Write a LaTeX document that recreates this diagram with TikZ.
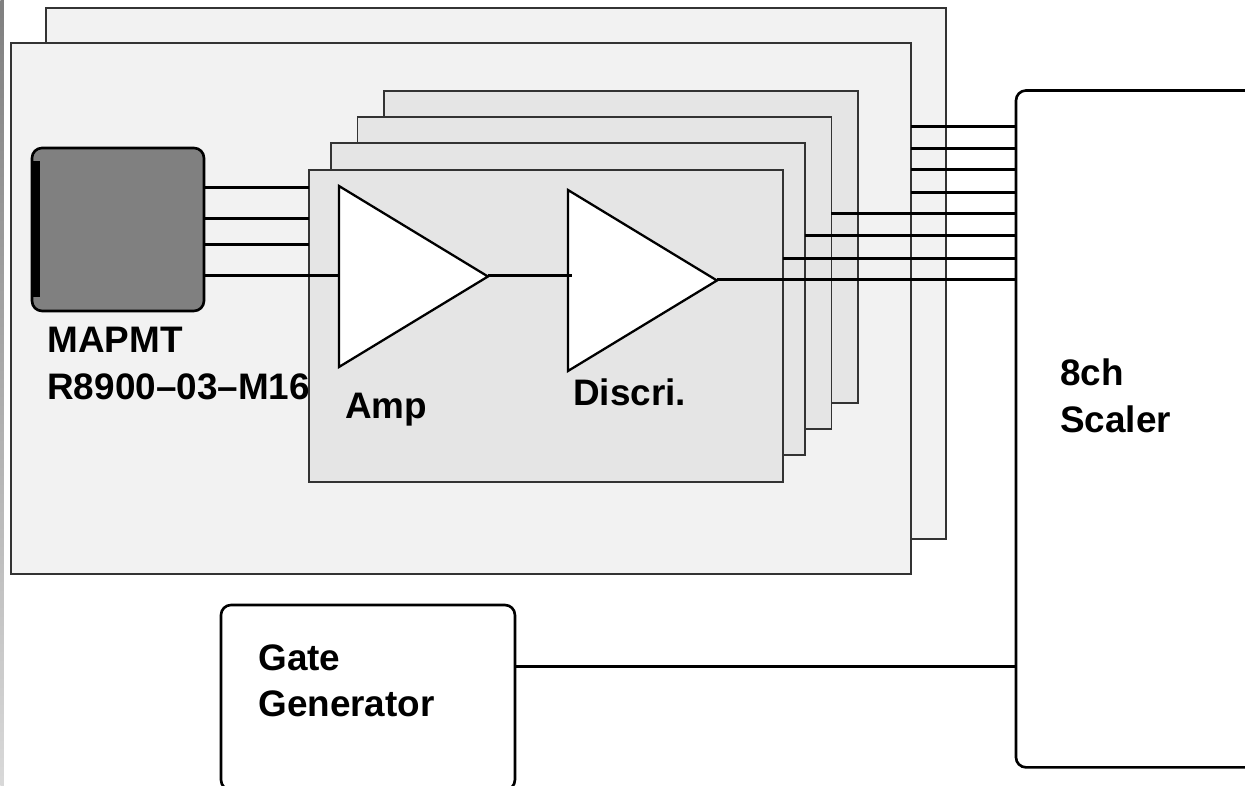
\documentclass[tikz,border=0pt]{standalone}
\usepackage{fontspec}
\setmainfont{Liberation Sans}
\usetikzlibrary{shapes.geometric}
\begin{document}
\begin{tikzpicture}[
    x=0.02cm, y=-0.02cm,
    outerboard/.style={rectangle, draw=black!80, line width=0.8pt, fill=black!5, anchor=north west, outer sep=0pt, minimum width=18cm, minimum height=10.62cm},
    ampboard/.style={rectangle, draw=black!80, line width=0.8pt, fill=black!10, anchor=north west, outer sep=0pt, minimum width=9.48cm, minimum height=6.24cm},
    device/.style={rectangle, draw, rounded corners=0.2cm, line width=1.5pt, anchor=north west, outer sep=0pt},
    stage/.style={isosceles triangle, isosceles triangle apex angle=100, isosceles triangle stretches, draw, line width=1.3pt, fill=white, shape border rotate=0, anchor=lower side, inner sep=0pt, outer sep=0pt, minimum width=3.62cm, minimum height=2.98cm},
    wire/.style={line width=1.5pt},
    label/.style={font=\fontsize{21}{26.6}\selectfont\bfseries, align=left, anchor=north west, inner sep=0pt}
  ]
    \path[use as bounding box, clip] (0,0) rectangle (1245,786);
    \node[rectangle, top color=black!50, bottom color=black!15, anchor=north west, inner sep=0pt, minimum width=0.07cm, minimum height=15.72cm] (edge) at (0,0) {};
    \node[outerboard] (back) at (46,8) {};
    \node[outerboard] (front) at (11,43) {};
    \node[ampboard] (board4) at (384,91) {};
    \node[ampboard] (board3) at (357.5,117) {};
    \node[ampboard] (board2) at (331,143) {};
    \node[ampboard] (board1) at (309,170) {};
    \node[device, fill=black!50, minimum width=3.44cm, minimum height=3.26cm] (pmt) at (32,148) {};
    \node[rectangle, fill=black, anchor=north west, inner sep=0pt, minimum width=0.14cm, minimum height=2.72cm] (window) at (33,161) {};
    \node[stage] (amp) at (339,276.5) {};
    \node[stage] (disc) at (568,280.5) {};
    \node[device, minimum width=5cm, minimum height=13.54cm] (scaler) at (1016,90.5) {};
    \node[device, minimum width=5.88cm, minimum height=3.7cm] (gate) at (221,605) {};
    \draw[wire] (pmt.east |- 0,187.5) -- (board1.west |- 0,187.5);
    \draw[wire] (pmt.east |- 0,218.5) -- (board1.west |- 0,218.5);
    \draw[wire] (pmt.east |- 0,244.5) -- (board1.west |- 0,244.5);
    \draw[wire] (pmt.east |- 0,275.5) -- (amp.lower side |- 0,275.5);
    \draw[wire] (amp.apex |- 0,275.5) -- (disc.lower side |- 0,275.5) -- ++(4,0);
    \draw[wire] (disc.apex |- 0,279.5) -- (scaler.west |- 0,279.5);
    \draw[wire] (board1.east |- 0,258.5) -- (scaler.west |- 0,258.5);
    \draw[wire] (board2.east |- 0,235.5) -- (scaler.west |- 0,235.5);
    \draw[wire] (board3.east |- 0,213.5) -- (scaler.west |- 0,213.5);
    \draw[wire] (front.east |- 0,192.5) -- (scaler.west |- 0,192.5);
    \draw[wire] (front.east |- 0,169.5) -- (scaler.west |- 0,169.5);
    \draw[wire] (front.east |- 0,148.5) -- (scaler.west |- 0,148.5);
    \draw[wire] (front.east |- 0,126.5) -- (scaler.west |- 0,126.5);
    \draw[wire] (gate.east |- 0,666.5) -- (scaler.west |- 0,666.5);
    \node[label] (pmtlabel) at (47,327) {MAPMT\\R8900--03--M16};
    \node[label] (amplabel) at (345,392.5) {Amp};
    \node[label] (disclabel) at (573,378) {Discri.};
    \node[label] (scalerlabel) at (1060,358.5) {8ch\\Scaler};
    \node[label] (gatelabel) at (258,644) {Gate\\Generator};
  \end{tikzpicture}
\end{document}
